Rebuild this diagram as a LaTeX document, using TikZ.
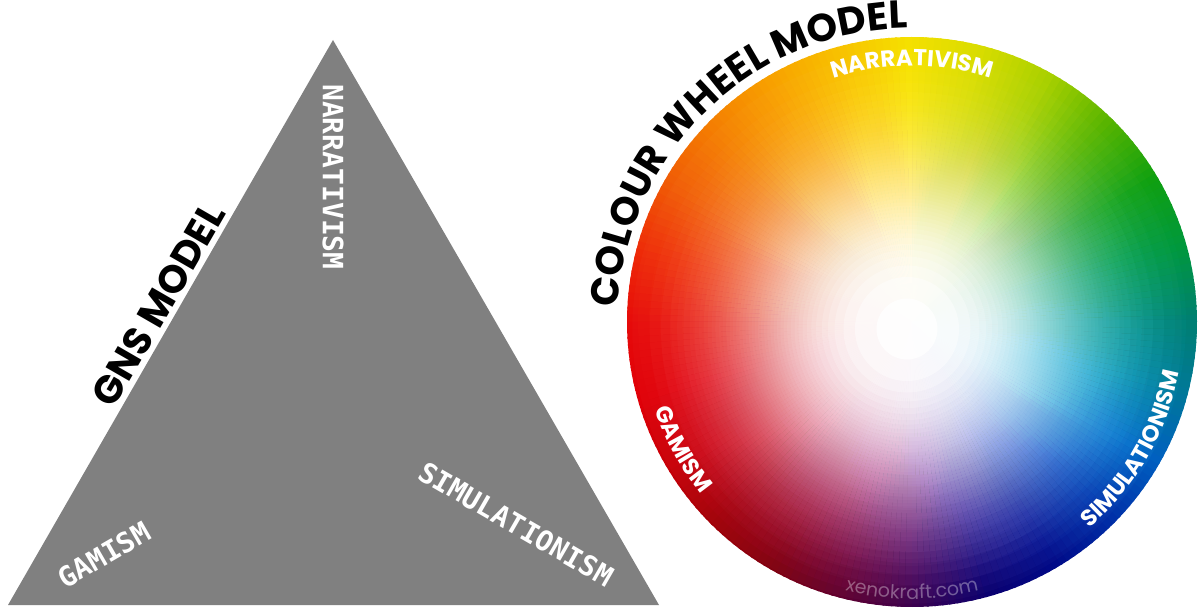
\documentclass[tikz,border=0pt]{standalone}
\usepackage{fontspec}
\usetikzlibrary{decorations.text}
\newfontfamily\titlefont{Poppins}
\newfontfamily\labfont{DejaVu Sans Mono}
\newfontfamily\wlabfont{Poppins}
% rim colours (angle k*15 deg)
\definecolor{rim0}{HTML}{008070}\definecolor{rim1}{HTML}{00983C}
\definecolor{rim2}{HTML}{10A010}\definecolor{rim3}{HTML}{58B400}
\definecolor{rim4}{HTML}{A8D000}\definecolor{rim5}{HTML}{D8DC00}
\definecolor{rim6}{HTML}{F5E000}\definecolor{rim7}{HTML}{F8C000}
\definecolor{rim8}{HTML}{F8A000}\definecolor{rim9}{HTML}{F47E02}
\definecolor{rim10}{HTML}{F05A06}\definecolor{rim11}{HTML}{EE2A08}
\definecolor{rim12}{HTML}{E60A0A}\definecolor{rim13}{HTML}{E00008}
\definecolor{rim14}{HTML}{C80008}\definecolor{rim15}{HTML}{A00008}
\definecolor{rim16}{HTML}{800010}\definecolor{rim17}{HTML}{600030}
\definecolor{rim18}{HTML}{3A0050}\definecolor{rim19}{HTML}{0A0070}
\definecolor{rim20}{HTML}{000A88}\definecolor{rim21}{HTML}{0030A8}
\definecolor{rim22}{HTML}{0060C0}\definecolor{rim23}{HTML}{007898}
\colorlet{rim24}{rim0}
% mid colours
\definecolor{mid0}{HTML}{00B0B0}\definecolor{mid1}{HTML}{00A878}
\definecolor{mid2}{HTML}{20B040}\definecolor{mid3}{HTML}{60C020}
\definecolor{mid4}{HTML}{B0D810}\definecolor{mid5}{HTML}{E0E400}
\definecolor{mid6}{HTML}{FFEE00}\definecolor{mid7}{HTML}{FFD000}
\definecolor{mid8}{HTML}{FCB000}\definecolor{mid9}{HTML}{F89000}
\definecolor{mid10}{HTML}{F87010}\definecolor{mid11}{HTML}{F44A10}
\definecolor{mid12}{HTML}{F03018}\definecolor{mid13}{HTML}{EC1828}
\definecolor{mid14}{HTML}{E01030}\definecolor{mid15}{HTML}{D01040}
\definecolor{mid16}{HTML}{C01060}\definecolor{mid17}{HTML}{B02080}
\definecolor{mid18}{HTML}{9030A0}\definecolor{mid19}{HTML}{6040C0}
\definecolor{mid20}{HTML}{3050D0}\definecolor{mid21}{HTML}{1070E0}
\definecolor{mid22}{HTML}{10A8F0}\definecolor{mid23}{HTML}{00B8E0}
\colorlet{mid24}{mid0}
\definecolor{trigray}{HTML}{808080}
\tikzset{
  lab/.style={text=white, inner sep=0pt, font=\labfont\bfseries\fontsize{28}{28}\selectfont},
  ttl/.style={text=black, inner sep=0pt, font=\titlefont\bfseries\fontsize{39}{39}\selectfont},
  tri/.style={fill=trigray},
}
\begin{document}
\begin{tikzpicture}[x=1pt,y=1pt]
\useasboundingbox (0,0) rectangle (1200,611);
% ---------- GNS triangle ----------
\coordinate (bl) at (8,6);
\coordinate (ap) at (333,571);
\coordinate (br) at (659,6);
\fill[tri] (bl) -- (ap) -- (br) -- cycle;
\node[lab, rotate=-90] (tn) at (333,434) {NARRATIVISM};
\node[lab, rotate=30] (tg) at (104,56) {GAMISM};
\node[lab, rotate=-30] (ts) at (516,87) {SIMULATIONISM};
\node[ttl, rotate=60, anchor=base] (gns) at (170.2,299.5) {GNS MODEL};
% ---------- colour wheel ----------
\coordinate (C) at (912,289);
\coordinate (W) at (907,282);
\foreach \k in {0,...,23}{%
  \pgfmathtruncatemacro\kn{\k+1}%
  \foreach \j in {0,...,9}{%
    \pgfmathtruncatemacro\t{round(\j*10)}%
    \colorlet{aR}{rim\kn!\t!rim\k}%
    \colorlet{aM}{mid\kn!\t!mid\k}%
    \pgfmathsetmacro\a{\k*15+\j*1.5}%
    \pgfmathsetmacro\b{\a+2.0}%
    \foreach \i in {0,...,14}{%
      \pgfmathsetmacro\r{285-\i*11}%
      \pgfmathtruncatemacro\m{round(\i*100/14)}%
      \fill[fill=aM!\m!aR] (C) -- ([shift={(\a:\r)}]C) arc[start angle=\a, end angle=\b, radius=\r] -- cycle;
    }%
  }%
}
% white glow: stacked discs, cumulative opacity O_i = 0.995 i/N
\begin{scope}
\clip (C) circle (285);
\foreach \i in {1,...,48}{%
  \pgfmathsetmacro\Oc{0.995*\i/48}%
  \pgfmathsetmacro\Op{0.995*(\i-1)/48}%
  \pgfmathsetmacro\al{1-(1-\Oc)/(1-\Op)}%
  \pgfmathsetmacro\rr{175*pow(-ln(\Oc),0.33333)}%
  \fill[white, fill opacity=\al] (W) circle (\rr);
}
\end{scope}
% wheel labels
\path[decorate, decoration={text along path, text align=center, text color=white,
  text={|\wlabfont\bfseries\fontsize{23}{23}\selectfont|NARRATIVISM}}]
  ([shift={(150:256)}]C) arc[start angle=150, end angle=30, radius=256];
\path[decorate, decoration={text along path, text align=center, text color=white,
  text={|\wlabfont\bfseries\fontsize{23}{23}\selectfont|GAMISM}}]
  ([shift={(169:272)}]C) arc[start angle=169, end angle=249, radius=272];
\path[decorate, decoration={text along path, text align=center, text color=white,
  text={|\wlabfont\bfseries\fontsize{23}{23}\selectfont|SIMULATIONISM}}]
  ([shift={(-80:272)}]C) arc[start angle=-80, end angle=20, radius=272];
\begin{scope}[fill opacity=0.35]
\path[decorate, decoration={text along path, text align=center, text color=white,
  text={|\wlabfont\fontsize{19}{19}\selectfont|xenokraft.com}}]
  ([shift={(235:277)}]C) arc[start angle=235, end angle=305, radius=277];
\end{scope}
% title
\path[decorate, decoration={text along path, text align=center, text color=black,
  text={|\titlefont\bfseries\fontsize{39}{39}\selectfont|COLOUR WHEEL MODEL}}]
  ([shift={(192:294)}]C) arc[start angle=192, end angle=76, radius=294];
\end{tikzpicture}
\end{document}
